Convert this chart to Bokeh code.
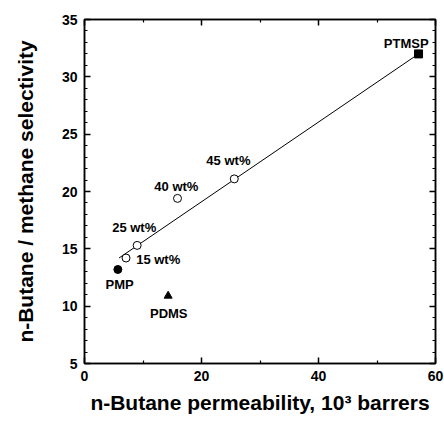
from bokeh.plotting import figure
from bokeh.models import (ColumnDataSource, FixedTicker, LinearAxis,
                          CustomJSTickFormatter, Range1d)
from bokeh.core.properties import value
from bokeh.embed import file_html
from bokeh.resources import INLINE

# ---- data ----
blend_x = [7.1, 9.0, 15.9, 25.6]          # 15, 25, 40, 45 wt%
blend_y = [14.2, 15.3, 19.4, 21.1]
ptmsp_x = [57.1]
ptmsp_y = [32.0]
pmp_x = [5.7]
pmp_y = [13.2]
pdms_x = [14.3]
pdms_y = [10.9]
fit_x = [5.9, 57.1]
fit_y = [14.2, 32.0]

label_text = ["PTMSP", "45 wt%", "40 wt%", "25 wt%", "15 wt%", "PMP", "PDMS"]
label_x = [55.0, 24.6, 15.7, 8.5, 12.6, 6.0, 14.4]
label_y = [32.9, 22.7, 20.4, 16.9, 14.1, 11.9, 9.35]

x_ticks = [0, 20, 40, 60]
x_minor = [10, 30, 50]
y_ticks = [5, 10, 15, 20, 25, 30, 35]
y_minor = [v for v in range(5, 36) if v % 5 != 0]

x_title = "n-Butane permeability, 10³ barrers"
y_title = "n-Butane / methane selectivity"

FONT = "Liberation Sans"

p = figure(frame_width=351, frame_height=344,
           x_range=Range1d(0, 60), y_range=Range1d(5, 35),
           output_backend="svg", toolbar_location=None,
           min_border_left=84, min_border_right=9,
           min_border_top=19, min_border_bottom=59)
p.grid.visible = False
p.outline_line_color = "black"
p.outline_line_width = 1.5
p.background_fill_color = "white"
p.border_fill_color = "white"

def style_axis(ax, ticks, minor, labels=True):
    ax.ticker = FixedTicker(ticks=ticks, minor_ticks=minor)
    ax.axis_line_color = "black"
    ax.axis_line_width = 1.5
    ax.major_tick_in = 6
    ax.major_tick_out = 0
    ax.minor_tick_in = 3
    ax.minor_tick_out = 0
    ax.major_tick_line_width = 1.5
    ax.minor_tick_line_width = 1.2
    ax.major_tick_line_color = "black"
    ax.minor_tick_line_color = "black"
    ax.major_label_text_font = FONT
    ax.major_label_text_font_style = "bold"
    ax.major_label_text_font_size = "14px"
    ax.major_label_text_color = "black"
    ax.major_label_standoff = 7
    ax.axis_label_text_font = FONT
    ax.axis_label_text_font_style = "bold"
    ax.axis_label_text_font_size = "21px"
    ax.axis_label_text_color = "black"
    if not labels:
        ax.formatter = CustomJSTickFormatter(code="return ''")
        ax.major_label_standoff = 0

style_axis(p.xaxis[0], x_ticks, x_minor)
style_axis(p.yaxis[0], y_ticks, y_minor)
p.xaxis[0].axis_label = x_title
p.xaxis[0].axis_label_standoff = 7
p.yaxis[0].axis_label = y_title
p.yaxis[0].axis_label_standoff = 22

top = LinearAxis()
style_axis(top, x_ticks, x_minor, labels=False)
p.add_layout(top, "above")
right = LinearAxis()
style_axis(right, y_ticks, y_minor, labels=False)
p.add_layout(right, "right")

# fit line
p.line(fit_x, fit_y, line_color="black", line_width=1)

# markers
p.scatter(blend_x, blend_y, marker="circle", size=8, fill_color="white",
          line_color="black", line_width=1)
p.scatter(ptmsp_x, ptmsp_y, marker="square", size=8, fill_color="black",
          line_color="black")
p.scatter(pmp_x, pmp_y, marker="circle", size=8, fill_color="black",
          line_color="black")
p.scatter(pdms_x, pdms_y, marker="triangle", size=8, fill_color="black",
          line_color="black")

src = ColumnDataSource(dict(x=label_x, y=label_y, t=label_text))
p.text(x="x", y="y", text="t", source=src, text_font=value(FONT),
       text_font_style="bold", text_font_size="13px", text_align="center",
       text_baseline="middle", text_color="black")

open("out.html", "w").write(file_html(p, INLINE))
